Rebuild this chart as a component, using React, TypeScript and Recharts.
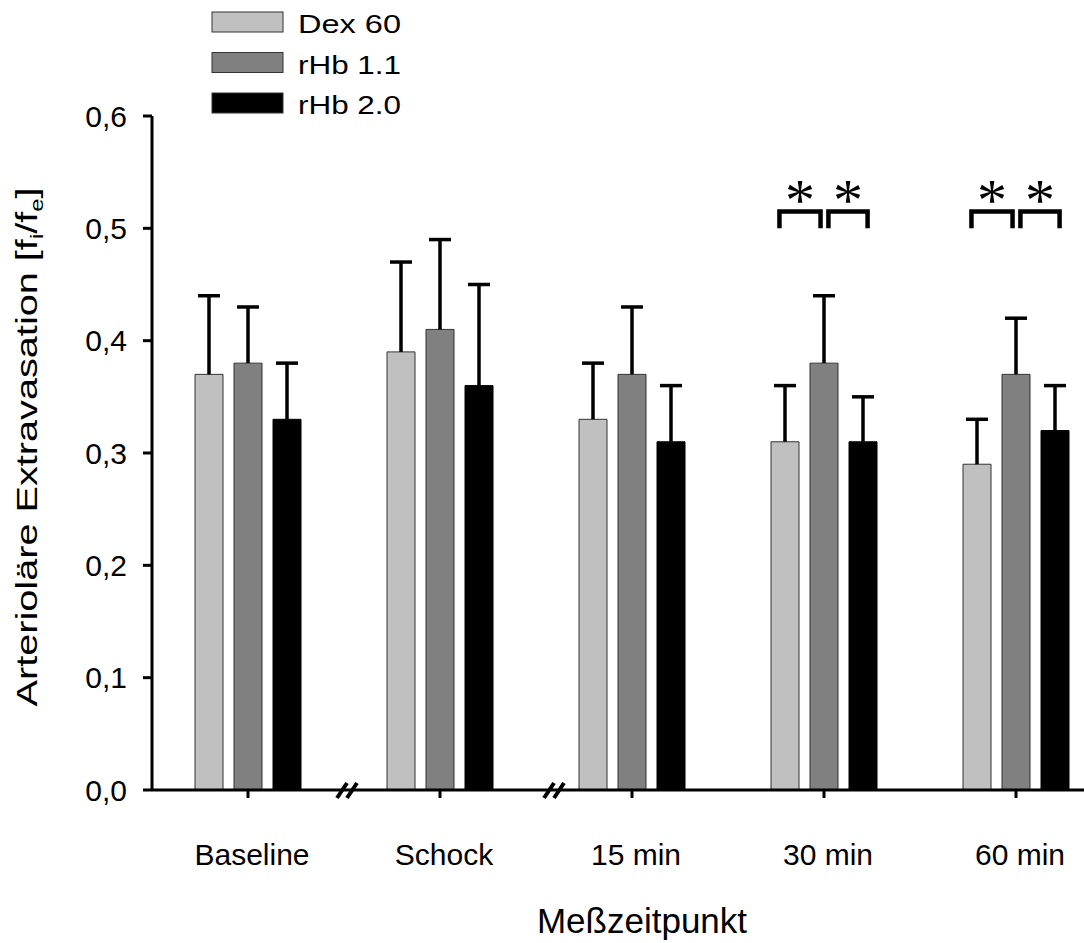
import React from 'react';
import {
  BarChart,
  Bar,
  XAxis,
  YAxis,
  ErrorBar,
  ReferenceArea,
} from 'recharts';

const CATEGORIES = ['Baseline', 'Schock', '15 min', '30 min', '60 min'];
const DEX60 = [0.37, 0.39, 0.33, 0.31, 0.29];
const DEX60_ERR = [0.07, 0.08, 0.05, 0.05, 0.04];
const RHB11 = [0.38, 0.41, 0.37, 0.38, 0.37];
const RHB11_ERR = [0.05, 0.08, 0.06, 0.06, 0.05];
const RHB20 = [0.33, 0.36, 0.31, 0.31, 0.32];
const RHB20_ERR = [0.05, 0.09, 0.05, 0.04, 0.04];
const Y_TICKS = [0, 0.1, 0.2, 0.3, 0.4, 0.5, 0.6];
const SERIES_NAMES = ['Dex 60', 'rHb 1.1', 'rHb 2.0'];
const SERIES_COLORS = ['#c0c0c0', '#808080', '#000000'];
// time points with * for Dex 60 vs rHb 1.1 and rHb 1.1 vs rHb 2.0
const SIGNIFICANT = ['30 min', '60 min'];
// axis breaks between these neighbouring time points
const BREAKS = [['Baseline', 'Schock'], ['Schock', '15 min']];

const FONT = '"Liberation Sans", Arial, sans-serif';

const data = CATEGORIES.map((cat, i) => ({
  cat,
  dex: DEX60[i],
  dexErr: [0, DEX60_ERR[i]],
  r11: RHB11[i],
  r11Err: [0, RHB11_ERR[i]],
  r20: RHB20[i],
  r20Err: [0, RHB20_ERR[i]],
}));

const fmt = (v: number) => v.toFixed(1).replace('.', ',');

// ReferenceArea spans one category band; brackets sit between bar centres
const Brackets = (p: any) => {
  const { x, y, width, height } = p;
  const cx = x + width / 2;
  const spans = [
    [cx - 0.232 * width, cx - 0.018 * width],
    [cx + 0.023 * width, cx + 0.227 * width],
  ];
  return (
    <g>
      {spans.map(([a, b], k) => (
        <g key={k}>
          <path
            d={`M${a},${y + height} V${y} H${b} V${y + height}`}
            stroke="#000"
            strokeWidth={4.5}
            fill="none"
          />
          <text
            x={(a + b) / 2}
            y={y + 9}
            textAnchor="middle"
            fontFamily='"Liberation Serif", serif'
            fontSize={60}
            fill="#000"
          >
            *
          </text>
        </g>
      ))}
    </g>
  );
};

// ReferenceArea spans two bands; the // sits near their common border
const makeBreak = (shift: number) => (p: any) => {
  const { x, width, y, height } = p;
  const bx = x + width / 2 + shift;
  const by = y + height;
  return (
    <g stroke="#000" strokeWidth={4}>
      <line x1={bx - 10} y1={by + 8} x2={bx} y2={by - 7} />
      <line x1={bx} y1={by + 8} x2={bx + 10} y2={by - 7} />
    </g>
  );
};
const BREAK_SHIFTS = [3, 18];

const LegendBox = () => (
  <svg width={420} height={125} style={{ position: 'absolute', top: 0, left: 0 }}>
    {SERIES_NAMES.map((name, i) => {
      const top = 12 + i * 40.5;
      return (
        <g key={name}>
          <rect
            x={212}
            y={top}
            width={71}
            height={20}
            fill={SERIES_COLORS[i]}
            stroke="#333"
            strokeWidth={1}
          />
          <text
            x={298}
            y={top + 21}
            fontFamily={FONT}
            fontSize={26}
            fill="#000"
            textLength={103}
            lengthAdjust="spacingAndGlyphs"
          >
            {name}
          </text>
        </g>
      );
    })}
  </svg>
);

const YTitle = () => (
  <text
    x={37}
    y={447}
    transform="rotate(-90 37 447)"
    textAnchor="middle"
    fontFamily={FONT}
    fontSize={30}
    fill="#000"
    textLength={519}
    lengthAdjust="spacingAndGlyphs"
  >
    Arterioläre Extravasation [f
    <tspan fontSize={18} dy={6}>i</tspan>
    <tspan dy={-6}>/f</tspan>
    <tspan fontSize={18} dy={6}>e</tspan>
    <tspan dy={-6}>]</tspan>
  </text>
);

const XTitle = (p: any) => {
  const vb = p.viewBox || {};
  return (
    <text
      x={vb.x + vb.width / 2 + 10}
      y={933}
      textAnchor="middle"
      fontFamily={FONT}
      fontSize={35}
      fill="#000"
    >
      Meßzeitpunkt
    </text>
  );
};

export default function App() {
  return (
    <div
      style={{
        position: 'fixed',
        top: 0,
        left: 0,
        width: 1084,
        height: 943,
        overflow: 'hidden',
        background: '#fff',
        fontFamily: FONT,
      }}
    >
      <style>{`.recharts-errorBar line:last-child{display:none}`}</style>
      <BarChart
        width={1120}
        height={943}
        data={data}
        margin={{ top: 116, right: 8, bottom: 0, left: 0 }}
        barSize={28}
        barGap={11}
      >
        <XAxis
          dataKey="cat"
          height={153}
          tickSize={8}
          tickMargin={46}
          tick={{ fontSize: 30, fill: '#000', dx: 4 }}
          tickLine={{ stroke: '#000', strokeWidth: 3 }}
          axisLine={{ stroke: '#000', strokeWidth: 3 }}
          label={XTitle}
        />
        <YAxis
          width={152}
          domain={[0, 0.6]}
          ticks={Y_TICKS}
          tickFormatter={fmt}
          tickSize={9}
          tickMargin={16}
          tick={{ fontSize: 30, fill: '#000' }}
          tickLine={{ stroke: '#000', strokeWidth: 3 }}
          axisLine={{ stroke: '#000', strokeWidth: 3 }}
          label={YTitle}
        />
        <Bar dataKey="dex" name={SERIES_NAMES[0]} fill={SERIES_COLORS[0]} stroke="#333" strokeWidth={1} isAnimationActive={false}>
          <ErrorBar dataKey="dexErr" width={11} stroke="#000" strokeWidth={3.5} isAnimationActive={false} />
        </Bar>
        <Bar dataKey="r11" name={SERIES_NAMES[1]} fill={SERIES_COLORS[1]} stroke="#333" strokeWidth={1} isAnimationActive={false}>
          <ErrorBar dataKey="r11Err" width={11} stroke="#000" strokeWidth={3.5} isAnimationActive={false} />
        </Bar>
        <Bar dataKey="r20" name={SERIES_NAMES[2]} fill={SERIES_COLORS[2]} stroke="#000" strokeWidth={1} isAnimationActive={false}>
          <ErrorBar dataKey="r20Err" width={11} stroke="#000" strokeWidth={3.5} isAnimationActive={false} />
        </Bar>
        {SIGNIFICANT.map((c) => (
          <ReferenceArea key={c} x1={c} x2={c} y1={0.5} y2={0.515} shape={Brackets} />
        ))}
        {BREAKS.map(([a, b], i) => (
          <ReferenceArea
            key={`br${i}`}
            x1={a}
            x2={b}
            y1={0}
            y2={0.01}
            ifOverflow="visible"
            shape={makeBreak(BREAK_SHIFTS[i])}
          />
        ))}
      </BarChart>
      <LegendBox />
    </div>
  );
}
